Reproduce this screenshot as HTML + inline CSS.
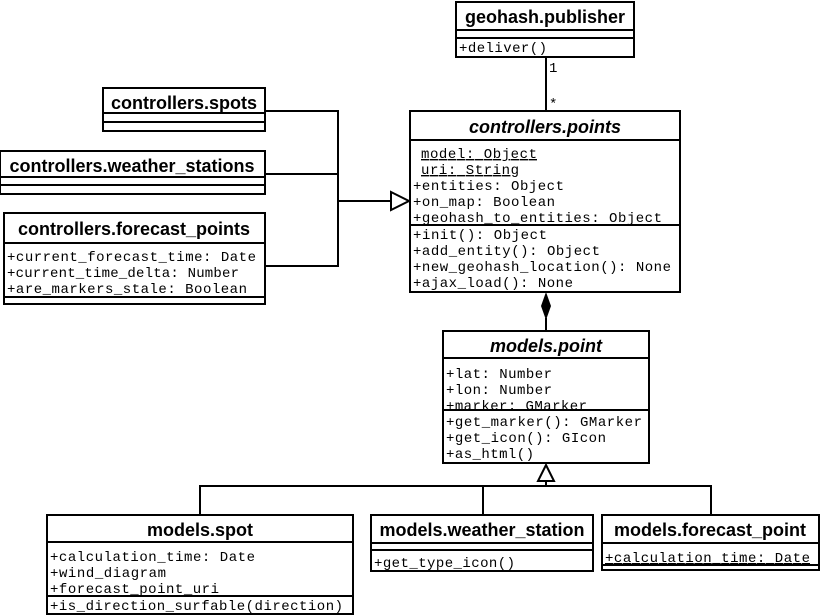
<!DOCTYPE html>
<html><head><meta charset="utf-8"><style>
html,body{margin:0;padding:0;background:#fff;}
svg{display:block;}
.h{font-family:"Liberation Sans",sans-serif;font-weight:bold;font-size:18px;text-anchor:middle;}
.i{font-style:italic;}
.m{font-family:"Liberation Mono",monospace;font-size:14px;}
rect{fill:#fff;stroke:#000;stroke-width:2;}
line,polyline{stroke:#000;stroke-width:2;fill:none;}
</style></head><body>
<svg width="820" height="616" viewBox="0 0 820 616">
<!-- connectors -->
<line x1="546" y1="57" x2="546" y2="111"/>
<text x="549" y="72" class="m" font-size="12">1</text>
<text x="549" y="108" class="m" font-size="12">*</text>
<polyline points="265,111 338,111 338,266 265,266"/>
<line x1="265" y1="174" x2="338" y2="174"/>
<line x1="338" y1="201" x2="392" y2="201"/>
<polygon points="391,192 409,201 391,210" fill="#fff" stroke="#000" stroke-width="2"/>
<line x1="546" y1="318" x2="546" y2="331"/>
<polygon points="546,292 551,306 546,320 541,306" fill="#000"/>
<polyline points="200,515 200,486 711,486 711,515"/>
<line x1="483" y1="486" x2="483" y2="515"/>
<line x1="546" y1="480" x2="546" y2="486"/>
<polygon points="546,465 554,481 538,481" fill="#fff" stroke="#000" stroke-width="2"/>

<!-- geohash.publisher -->
<rect x="456" y="2" width="178" height="55"/>
<line x1="456" y1="30" x2="634" y2="30"/><line x1="456" y1="38" x2="634" y2="38"/>
<text x="545" y="23" class="h">geohash.publisher</text>
<text x="459" y="52" class="m" textLength="88">+deliver()</text>

<!-- controllers.points -->
<rect x="410" y="111" width="270" height="181"/>
<line x1="410" y1="140" x2="680" y2="140"/><line x1="410" y1="225" x2="680" y2="225"/>
<text x="545" y="133" class="h i">controllers.points</text>
<g class="m">
<text x="421" y="158" text-decoration="underline" textLength="116">model: Object</text>
<text x="421" y="174" text-decoration="underline" textLength="98">uri: String</text>
<text x="413" y="190" textLength="151">+entities: Object</text>
<text x="413" y="206" textLength="142">+on_map: Boolean</text>
<text x="413" y="222" textLength="249">+geohash_to_entities: Object</text>
<text x="413" y="239" textLength="134">+init(): Object</text>
<text x="413" y="255" textLength="187">+add_entity(): Object</text>
<text x="413" y="271" textLength="258">+new_geohash_location(): None</text>
<text x="413" y="287" textLength="160">+ajax_load(): None</text>
</g>

<!-- controllers.spots -->
<rect x="103" y="88" width="162" height="43"/>
<line x1="103" y1="113" x2="265" y2="113"/><line x1="103" y1="122" x2="265" y2="122"/>
<text x="184" y="109" class="h">controllers.spots</text>

<!-- controllers.weather_stations -->
<rect x="0" y="151" width="265" height="43"/>
<line x1="0" y1="177" x2="265" y2="177"/><line x1="0" y1="185" x2="265" y2="185"/>
<text x="132" y="172" class="h">controllers.weather_stations</text>

<!-- controllers.forecast_points -->
<rect x="4" y="213" width="261" height="91"/>
<line x1="4" y1="243" x2="265" y2="243"/><line x1="4" y1="297" x2="265" y2="297"/>
<text x="134" y="235" class="h">controllers.forecast_points</text>
<g class="m">
<text x="7" y="261" textLength="249">+current_forecast_time: Date</text>
<text x="7" y="277" textLength="232">+current_time_delta: Number</text>
<text x="7" y="293" textLength="240">+are_markers_stale: Boolean</text>
</g>

<!-- models.point -->
<rect x="443" y="331" width="206" height="132"/>
<line x1="443" y1="358" x2="649" y2="358"/><line x1="443" y1="410" x2="649" y2="410"/>
<text x="546" y="352" class="h i">models.point</text>
<g class="m">
<text x="446" y="378" textLength="106">+lat: Number</text>
<text x="446" y="394" textLength="106">+lon: Number</text>
<text x="446" y="410" textLength="141">+marker: GMarker</text>
<text x="446" y="426" textLength="196">+get_marker(): GMarker</text>
<text x="446" y="442" textLength="160">+get_icon(): GIcon</text>
<text x="446" y="458" textLength="88">+as_html()</text>
</g>

<!-- models.spot -->
<rect x="47" y="515" width="306" height="99"/>
<line x1="47" y1="542" x2="353" y2="542"/><line x1="47" y1="596" x2="353" y2="596"/>
<text x="200" y="536" class="h">models.spot</text>
<g class="m">
<text x="50" y="561" textLength="205">+calculation_time: Date</text>
<text x="50" y="577" textLength="116">+wind_diagram</text>
<text x="50" y="593" textLength="169">+forecast_point_uri</text>
<text x="50" y="610" textLength="293">+is_direction_surfable(direction)</text>
</g>

<!-- models.weather_station -->
<rect x="371" y="515" width="222" height="56"/>
<line x1="371" y1="543" x2="593" y2="543"/><line x1="371" y1="550" x2="593" y2="550"/>
<text x="482" y="536" class="h">models.weather_station</text>
<text x="374" y="567" class="m" textLength="141">+get_type_icon()</text>

<!-- models.forecast_point -->
<rect x="602" y="515" width="217" height="55"/>
<line x1="602" y1="543" x2="819" y2="543"/><line x1="602" y1="565" x2="819" y2="565"/>
<text x="710" y="536" class="h">models.forecast_point</text>
<text x="605" y="562" class="m" text-decoration="underline" textLength="205">+calculation_time: Date</text>
</svg>
</body></html>
